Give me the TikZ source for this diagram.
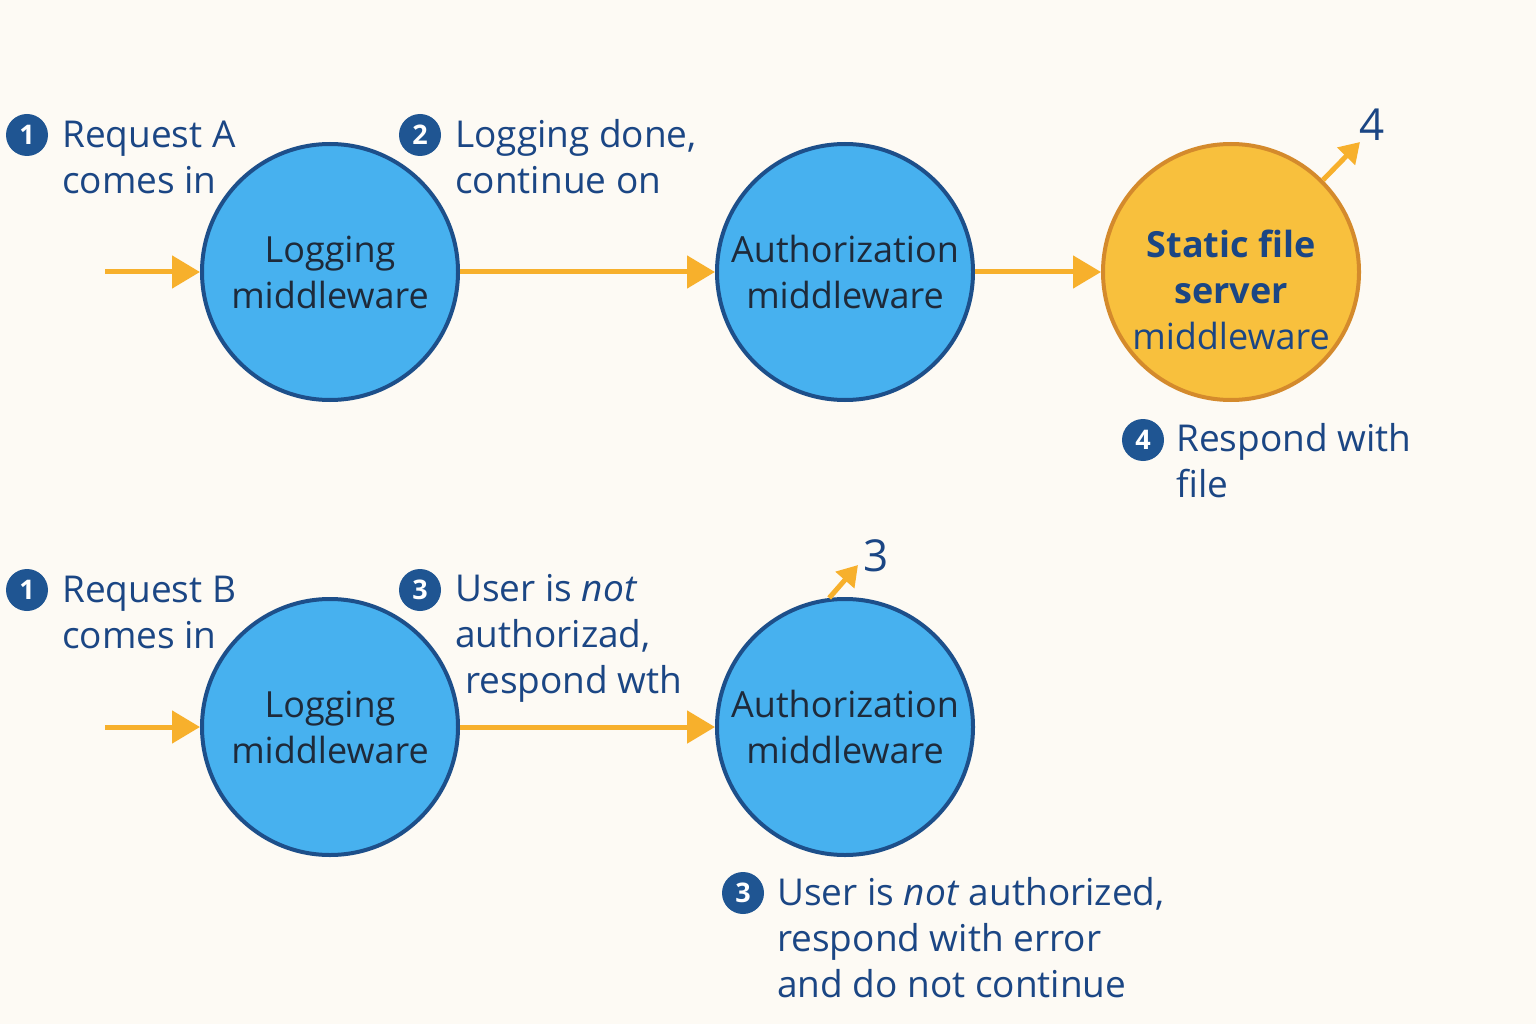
\documentclass[tikz,border=0pt]{standalone}
\usepackage{fontspec}
\setmainfont{Open Sans}
\usetikzlibrary{arrows.meta}

\definecolor{bgcream}{HTML}{FDFAF4}
\definecolor{mwblue}{HTML}{47B1EF}
\definecolor{mwedge}{HTML}{1D4F8A}
\definecolor{filegold}{HTML}{F8C03D}
\definecolor{fileedge}{HTML}{D48A2C}
\definecolor{flowgold}{HTML}{F7B02C}
\definecolor{ink}{HTML}{1B4684}
\definecolor{badgeblue}{HTML}{1F5592}
\definecolor{darkink}{HTML}{1E2A3A}

\begin{document}
\begin{tikzpicture}[x=1pt,y=-1pt,
    mw/.style={circle,draw=mwedge,line width=4pt,fill=mwblue,minimum size=256pt,inner sep=0pt,
      text=darkink,align=center,font=\fontsize{36}{46}\selectfont},
    filemw/.style={mw,draw=fileedge,fill=filegold,text=ink},
    badge/.style={circle,fill=badgeblue,text=white,minimum size=42pt,inner sep=0pt,
      font=\fontsize{27}{27}\selectfont\bfseries},
    note/.style={anchor=west,align=left,text=ink,inner sep=0pt,font=\fontsize{37}{46}\selectfont},
    flow/.style={draw=flowgold,line width=5pt,-{Triangle[length=28pt,width=32pt]}},
    exitflow/.style={draw=flowgold,line width=5pt,-{Triangle[length=20pt,width=24pt]}},
    stepnum/.style={text=ink,font=\fontsize{44}{44}\selectfont}
  ]
  \fill[bgcream] (0,0) rectangle (1536,1024);

  % request A
  \node[mw] (logA) at (330,272) {Logging\\middleware};
  \node[mw] (authA) at (845,272) {Authorization\\middleware};
  \node[filemw] (fileA) at (1231,272) {};
  \node[align=center,text=ink,font=\fontsize{36}{46}\selectfont] (fileLbl) at (1231,290)
    {\textbf{Static file}\\\textbf{server}\\middleware};
  \coordinate (inA) at (105,272);
  \coordinate (outA) at (1360,142);
  \draw[flow] (inA) -- (logA);
  \draw[flow] (logA) -- (authA);
  \draw[flow] (authA) -- (fileA);
  \draw[exitflow] (fileA.45) -- (outA);
  \node[stepnum] (numA) at (1372,125) {4};

  \node[badge] (bA1) at (27,135) {1};
  \node[note] (tA1) at (62,157) {Request A\\comes in};
  \node[badge] (bA2) at (420,135) {2};
  \node[note] (tA2) at (455,157) {Logging done,\\continue on};
  \node[badge] (bA4) at (1143,440) {4};
  \node[note] (tA4) at (1176,461) {Respond with\\file};

  % request B
  \node[mw] (logB) at (330,727) {Logging\\middleware};
  \node[mw] (authB) at (845,727) {Authorization\\middleware};
  \coordinate (inB) at (105,727);
  \coordinate (outB) at (858,565);
  \draw[flow] (inB) -- (logB);
  \draw[flow] (logB) -- (authB);
  \draw[exitflow] (authB.97) -- (outB);
  \node[stepnum] (numB) at (876,556) {3};

  \node[badge] (bB1) at (27,590) {1};
  \node[note] (tB1) at (62,612) {Request B\\comes in};
  \node[badge] (bB3) at (420,590) {3};
  \node[note] (tB3) at (455,638) {User is \textit{not}\\authorizad,\\\hspace*{10pt}respond wth};
  \node[badge] (bB3b) at (743,893) {3};
  \node[note] (tB3b) at (777,938) {User is \textit{not} authorized,\\respond with error\\and do not continue};
\end{tikzpicture}
\end{document}
